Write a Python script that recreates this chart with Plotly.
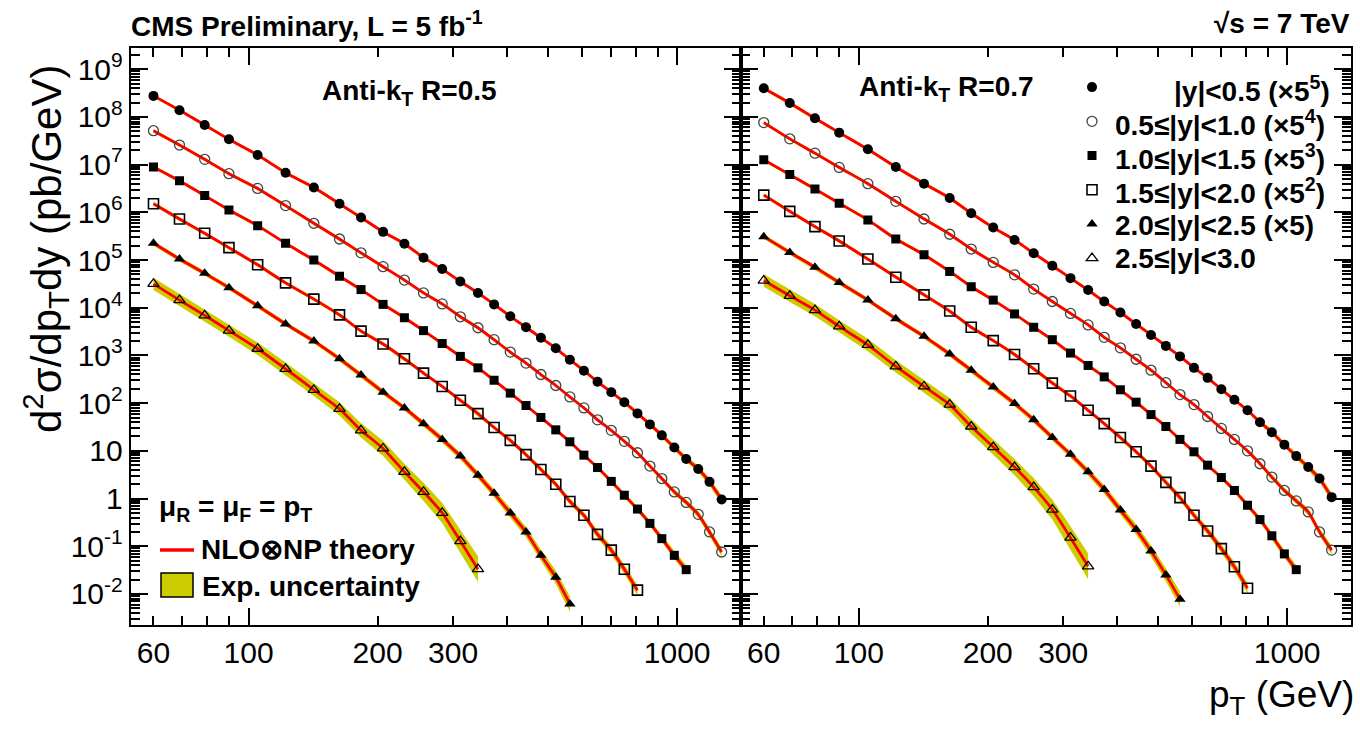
import plotly.graph_objects as go

# ---------------- data ----------------
# jet pT bin positions (GeV)
pt_gev = [60, 69, 79, 90, 105, 122, 142, 163, 183, 206, 231, 256, 283, 312, 343,
          374, 408, 444, 481, 521, 562, 606, 652, 702, 753, 808, 864, 921, 985,
          1050, 1120, 1190, 1270]

rapidity_labels = [
    "|y|<0.5 (\u00d75<sup>5</sup>)",
    "0.5\u2264|y|<1.0 (\u00d75<sup>4</sup>)",
    "1.0\u2264|y|<1.5 (\u00d75<sup>3</sup>)",
    "1.5\u2264|y|<2.0 (\u00d75<sup>2</sup>)",
    "2.0\u2264|y|<2.5 (\u00d75)",
    "2.5\u2264|y|<3.0",
]

# log10 of d2sigma/dpT dy (pb/GeV), scaled as in the legend -- anti-kT R=0.5
r05_y00 = [8.44, 8.14, 7.83, 7.53, 7.20, 6.83, 6.52, 6.18, 5.89, 5.59, 5.34, 5.05, 4.81,
           4.55, 4.31, 4.07, 3.82, 3.59, 3.37, 3.15, 2.91, 2.68, 2.45, 2.23, 2.02, 1.785,
           1.555, 1.325, 1.07, 0.83, 0.62, 0.35, -0.02]
r05_y05 = [7.71, 7.41, 7.11, 6.81, 6.50, 6.14, 5.77, 5.44, 5.15, 4.86, 4.58, 4.31, 4.08,
           3.81, 3.58, 3.33, 3.07, 2.84, 2.60, 2.37, 2.13, 1.90, 1.65, 1.43, 1.20, 0.96,
           0.68, 0.42, 0.14, -0.08, -0.33, -0.70, -1.12]
r05_y10 = [6.95, 6.66, 6.35, 6.05, 5.72, 5.35, 5.00, 4.66, 4.38, 4.07, 3.79, 3.52, 3.25,
           2.98, 2.74, 2.48, 2.21, 1.95, 1.70, 1.44, 1.19, 0.91, 0.65, 0.36, 0.07, -0.22,
           -0.52, -0.84, -1.19, -1.49]
r05_y15 = [6.18, 5.86, 5.56, 5.26, 4.90, 4.52, 4.18, 3.85, 3.51, 3.24, 2.93, 2.63, 2.35,
           2.06, 1.78, 1.49, 1.22, 0.92, 0.61, 0.30, -0.06, -0.35, -0.75, -1.08, -1.48, -1.92]
r05_y20 = [5.35, 5.02, 4.72, 4.42, 4.04, 3.66, 3.30, 2.93, 2.59, 2.23, 1.90, 1.57, 1.24,
           0.89, 0.49, 0.11, -0.30, -0.70, -1.19, -1.65, -2.21]
r05_y25 = [4.50, 4.16, 3.84, 3.52, 3.14, 2.72, 2.28, 1.88, 1.43, 1.05, 0.56, 0.14, -0.30,
           -0.89, -1.48]

# anti-kT R=0.7
r07_y00 = [8.60, 8.29, 7.97, 7.67, 7.32, 6.95, 6.60, 6.30, 5.98, 5.68, 5.42, 5.14, 4.88,
           4.62, 4.37, 4.13, 3.90, 3.66, 3.43, 3.20, 2.98, 2.74, 2.53, 2.29, 2.07, 1.85,
           1.60, 1.39, 1.13, 0.89, 0.66, 0.42, 0.03]
r07_y05 = [7.88, 7.54, 7.24, 6.94, 6.60, 6.23, 5.86, 5.54, 5.23, 4.95, 4.69, 4.39, 4.13,
           3.88, 3.64, 3.38, 3.16, 2.92, 2.69, 2.43, 2.18, 1.97, 1.72, 1.47, 1.24, 1.00,
           0.73, 0.45, 0.17, -0.05, -0.28, -0.70, -1.08]
r07_y10 = [7.10, 6.79, 6.49, 6.19, 5.84, 5.44, 5.11, 4.76, 4.44, 4.16, 3.87, 3.59, 3.33,
           3.05, 2.79, 2.55, 2.28, 2.02, 1.76, 1.51, 1.24, 0.98, 0.70, 0.44, 0.17, -0.14,
           -0.44, -0.78, -1.16, -1.49]
r07_y15 = [6.36, 6.02, 5.70, 5.40, 5.02, 4.64, 4.27, 3.93, 3.59, 3.31, 3.02, 2.72, 2.42,
           2.15, 1.85, 1.57, 1.28, 0.98, 0.68, 0.34, 0.02, -0.35, -0.68, -1.05, -1.43, -1.88]
r07_y20 = [5.49, 5.16, 4.85, 4.53, 4.16, 3.77, 3.40, 3.03, 2.69, 2.34, 1.99, 1.65, 1.28,
           0.93, 0.56, 0.19, -0.24, -0.65, -1.10, -1.60, -2.11]
r07_y25 = [4.57, 4.25, 3.95, 3.61, 3.22, 2.77, 2.35, 1.97, 1.51, 1.08, 0.66, 0.24, -0.23,
           -0.82, -1.42]

# experimental uncertainty band half-width (log10 units)
unc_y00 = [0.035, 0.035, 0.035, 0.035, 0.035, 0.035, 0.035, 0.035, 0.035, 0.035, 0.035,
           0.035, 0.035, 0.035, 0.035, 0.035, 0.035, 0.035, 0.035, 0.035, 0.035, 0.035,
           0.035, 0.035, 0.04, 0.04, 0.045, 0.05, 0.055, 0.06, 0.07, 0.08, 0.09]
unc_y05 = [0.035, 0.035, 0.035, 0.035, 0.035, 0.035, 0.035, 0.035, 0.035, 0.035, 0.035,
           0.035, 0.035, 0.035, 0.035, 0.035, 0.035, 0.035, 0.035, 0.035, 0.035, 0.035,
           0.035, 0.035, 0.04, 0.04, 0.045, 0.05, 0.055, 0.06, 0.07, 0.08, 0.09]
unc_y10 = [0.035, 0.035, 0.035, 0.035, 0.035, 0.035, 0.035, 0.035, 0.035, 0.035, 0.035,
           0.035, 0.035, 0.035, 0.035, 0.035, 0.035, 0.035, 0.035, 0.035, 0.035,
           0.04, 0.04, 0.045, 0.05, 0.055, 0.06, 0.07, 0.08, 0.09]
unc_y15 = [0.04, 0.04, 0.04, 0.04, 0.04, 0.04, 0.04, 0.04, 0.04, 0.04, 0.04, 0.04, 0.04,
           0.04, 0.04, 0.04, 0.045, 0.05, 0.055, 0.06, 0.065, 0.07, 0.08, 0.09, 0.10, 0.11]
unc_y20 = [0.05, 0.05, 0.05, 0.05, 0.05, 0.05, 0.05, 0.055, 0.055, 0.06, 0.06, 0.065, 0.07,
           0.075, 0.08, 0.09, 0.10, 0.11, 0.12, 0.14, 0.16]
unc_y25 = [0.13, 0.13, 0.13, 0.13, 0.13, 0.13, 0.13, 0.14, 0.15, 0.16, 0.17, 0.19, 0.21,
           0.24, 0.27]

x_tick_vals = [60, 70, 80, 90, 100, 200, 300, 400, 500, 600, 700, 800, 900, 1000]
x_tick_text = ["60", "", "", "", "100", "200", "300", "", "", "", "", "", "", "1000"]
y_tick_vals = [1e-2, 1e-1, 1, 10, 1e2, 1e3, 1e4, 1e5, 1e6, 1e7, 1e8, 1e9]
y_tick_text = ["10<sup>-2</sup>", "10<sup>-1</sup>", "1", "10", "10<sup>2</sup>",
               "10<sup>3</sup>", "10<sup>4</sup>", "10<sup>5</sup>", "10<sup>6</sup>",
               "10<sup>7</sup>", "10<sup>8</sup>", "10<sup>9</sup>"]

# ---------------- styling ----------------
W, H = 1360, 733
FONT = "Liberation Sans, Arial, Helvetica, sans-serif"
YEL = "rgb(204,204,0)"
RED = "rgb(255,0,0)"

def px_x(p):
    return p / W

def px_y(p):
    return 1 - p / H

marker_styles = [
    dict(symbol="circle", size=10, color="black"),
    dict(symbol="circle-open", size=10, color="#444", line=dict(width=1.3, color="#444")),
    dict(symbol="square", size=9, color="black"),
    dict(symbol="square-open", size=10, color="black", line=dict(width=1.6, color="black")),
    dict(symbol="triangle-up", size=10, color="black"),
    dict(symbol="triangle-up-open", size=10, color="black", line=dict(width=1.3, color="black")),
]

panels = [
    ("x", "y", [r05_y00, r05_y05, r05_y10, r05_y15, r05_y20, r05_y25], False),
    ("x2", "y2", [r07_y00, r07_y05, r07_y10, r07_y15, r07_y20, r07_y25], True),
]
uncs = [unc_y00, unc_y05, unc_y10, unc_y15, unc_y20, unc_y25]

fig = go.Figure()

for xa, ya, series, with_legend in panels:
    # experimental uncertainty bands
    for vals, unc in zip(series, uncs):
        n = len(vals)
        xs = pt_gev[:n]
        up = [10 ** (v + u) for v, u in zip(vals, unc)]
        lo = [10 ** (v - u) for v, u in zip(vals, unc)]
        fig.add_trace(go.Scatter(
            x=xs + xs[::-1], y=up + lo[::-1], fill="toself", fillcolor=YEL,
            line=dict(width=0, color=YEL), mode="lines", hoverinfo="skip",
            showlegend=False, xaxis=xa, yaxis=ya))
    # theory lines
    for vals in series:
        n = len(vals)
        fig.add_trace(go.Scatter(
            x=pt_gev[:n], y=[10 ** v for v in vals], mode="lines",
            line=dict(color=RED, width=2.8, shape="spline", smoothing=0.6),
            hoverinfo="skip", showlegend=False, xaxis=xa, yaxis=ya))
    # data points (legend keys taken from the R=0.7 panel; text drawn as annotations)
    for i, vals in enumerate(series):
        n = len(vals)
        fig.add_trace(go.Scatter(
            x=pt_gev[:n], y=[10 ** v for v in vals], mode="markers",
            marker=marker_styles[i], name=" ",
            hovertext=rapidity_labels[i],
            showlegend=with_legend, xaxis=xa, yaxis=ya))

# dummy traces to carry the long ticks at 100 and 1000
fig.add_trace(go.Scatter(x=[None], y=[None], xaxis="x3", yaxis="y", showlegend=False))
fig.add_trace(go.Scatter(x=[None], y=[None], xaxis="x4", yaxis="y2", showlegend=False))

xr = [1.725, 3.149]
yr = [-2.65, 9.45]
xdom_l = [130.7 / W, 741 / W]
xdom_r = [741 / W, 1351 / W]
ydom = [1 - 625 / H, 1 - 47.7 / H]

def xaxis(domain, anchor, labels=True):
    return dict(type="log", range=xr, domain=domain, anchor=anchor,
                tickmode="array", tickvals=x_tick_vals, ticktext=x_tick_text,
                ticks="inside", ticklen=9, tickwidth=1.6, tickcolor="black",
                showline=True, linecolor="black", linewidth=2, mirror="ticks",
                showgrid=False, zeroline=False, automargin=False,
                showticklabels=labels,
                tickfont=dict(family=FONT, size=30, color="black"))

def longticks(over, anchor):
    return dict(type="log", range=xr, overlaying=over, anchor=anchor,
                tickmode="array", tickvals=[100, 1000], ticks="inside", ticklen=17,
                tickwidth=1.8, tickcolor="black", showticklabels=False,
                showline=False, mirror="ticks", showgrid=False, zeroline=False,
                automargin=False)

def yaxis(anchor, labels=True):
    return dict(type="log", range=yr, domain=ydom, anchor=anchor,
                tickmode="array", tickvals=y_tick_vals, ticktext=y_tick_text,
                ticks="inside", ticklen=17, tickwidth=2, tickcolor="black",
                minor=dict(ticks="inside", ticklen=9, dtick="D1", tickwidth=1.5,
                           tickcolor="black", showgrid=False),
                showline=True, linecolor="black", linewidth=2, mirror="ticks",
                showgrid=False, zeroline=False, automargin=False,
                showticklabels=labels,
                tickfont=dict(family=FONT, size=30, color="black"))

fig.update_layout(
    width=W, height=H,
    margin=dict(l=0, r=0, t=0, b=0),
    paper_bgcolor="white", plot_bgcolor="white",
    font=dict(family=FONT, color="black"),
    xaxis=xaxis(xdom_l, "y"),
    xaxis2=xaxis(xdom_r, "y2"),
    xaxis3=longticks("x", "y"),
    xaxis4=longticks("x2", "y2"),
    yaxis=yaxis("x"),
    yaxis2=yaxis("x2", labels=False),
    showlegend=True,
    legend=dict(x=px_x(1072), y=px_y(65), xanchor="left", yanchor="top",
                bgcolor="rgba(0,0,0,0)", borderwidth=0,
                font=dict(family=FONT, size=24, color="black"),
                itemsizing="trace", tracegroupgap=0),
)

legend_rows_y = [88, 122, 156, 190, 224, 258]
legend_text_x = [1172, 1113, 1113, 1113, 1113, 1113]

ann = [
    dict(text="CMS Preliminary, L = 5 fb<sup>-1</sup>", x=px_x(129), y=px_y(24),
         xanchor="left", yanchor="middle", font=dict(size=28, weight="bold")),
    dict(text="\u221as = 7 TeV", x=px_x(1352), y=px_y(24),
         xanchor="right", yanchor="middle", font=dict(size=28, weight="bold")),
    dict(text="Anti-k<sub>T</sub> R=0.5", x=px_x(320), y=px_y(92),
         xanchor="left", yanchor="middle", font=dict(size=28, weight="bold")),
    dict(text="Anti-k<sub>T</sub> R=0.7", x=px_x(857), y=px_y(88),
         xanchor="left", yanchor="middle", font=dict(size=28, weight="bold")),
    dict(text="d<sup>2</sup>\u03c3/dp<sub>T</sub>dy (pb/GeV)", x=px_x(45), y=px_y(249),
         xanchor="center", yanchor="middle", textangle=-90, font=dict(size=42)),
    dict(text="p<sub>T</sub> (GeV)", x=px_x(1356), y=px_y(697),
         xanchor="right", yanchor="middle", font=dict(size=37)),
    dict(text="\u03bc<sub>R</sub> = \u03bc<sub>F</sub> = p<sub>T</sub>", x=px_x(157), y=px_y(508),
         xanchor="left", yanchor="middle", font=dict(size=28, weight="bold")),
    dict(text="NLO\u2297NP theory", x=px_x(199), y=px_y(549),
         xanchor="left", yanchor="middle", font=dict(size=28, weight="bold")),
    dict(text="Exp. uncertainty", x=px_x(200), y=px_y(586),
         xanchor="left", yanchor="middle", font=dict(size=28, weight="bold")),
]
for lbl, ly, lx in zip(rapidity_labels, legend_rows_y, legend_text_x):
    ann.append(dict(text=lbl, x=px_x(lx), y=px_y(ly + 1), xanchor="left", yanchor="middle",
                    font=dict(size=28, weight="bold")))
for a in ann:
    a.update(xref="paper", yref="paper", showarrow=False)
    a["font"] = dict(family=FONT, color="black", **a["font"])
fig.update_layout(annotations=ann)

fig.update_layout(shapes=[
    dict(type="line", xref="paper", yref="paper", x0=px_x(160), x1=px_x(194),
         y0=px_y(550), y1=px_y(550), line=dict(color=RED, width=3.5)),
    dict(type="rect", xref="paper", yref="paper", x0=px_x(161), x1=px_x(193),
         y0=px_y(573), y1=px_y(597), fillcolor=YEL, line=dict(color="black", width=1.5)),
])

fig.write_html("out.html",
               config={"displayModeBar": False},
               post_script="document.body.style.margin='0px';"
                           "document.body.style.overflow='hidden';")
